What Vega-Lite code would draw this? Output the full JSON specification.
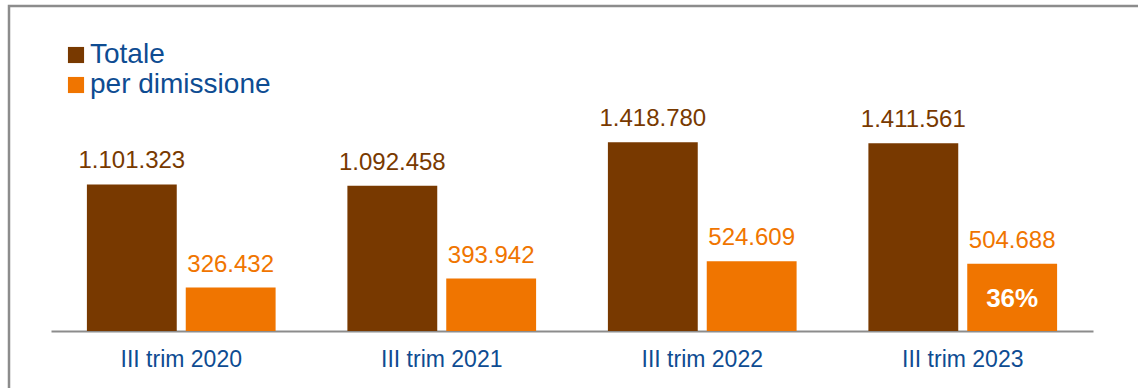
{
  "$schema": "https://vega.github.io/schema/vega-lite/v6.json",
  "width": 1132,
  "height": 388,
  "autosize": {"type": "none"},
  "padding": {"left": 9, "top": 6, "right": -3, "bottom": -6},
  "config": {
    "locale": {"number": {"decimal": ",", "thousands": ".", "grouping": [3], "currency": ["€", ""]}},
    "view": {"stroke": "#8c8c8c", "strokeWidth": 2.5},
    "font": "Liberation Sans"
  },
  "data": {
    "values": [
      {"periodo": "III trim 2020", "serie": "Totale", "valore": 1101323, "pct": ""},
      {"periodo": "III trim 2020", "serie": "per dimissione", "valore": 326432, "pct": ""},
      {"periodo": "III trim 2021", "serie": "Totale", "valore": 1092458, "pct": ""},
      {"periodo": "III trim 2021", "serie": "per dimissione", "valore": 393942, "pct": ""},
      {"periodo": "III trim 2022", "serie": "Totale", "valore": 1418780, "pct": ""},
      {"periodo": "III trim 2022", "serie": "per dimissione", "valore": 524609, "pct": ""},
      {"periodo": "III trim 2023", "serie": "Totale", "valore": 1411561, "pct": ""},
      {"periodo": "III trim 2023", "serie": "per dimissione", "valore": 504688, "pct": "36%"}
    ]
  },
  "encoding": {
    "x": {
      "field": "periodo",
      "type": "nominal",
      "sort": null,
      "scale": {"range": [42, 1084], "paddingInner": 0.2756, "paddingOuter": 0.1378},
      "axis": {
        "orient": "bottom",
        "offset": -63,
        "title": null,
        "ticks": false,
        "tickSize": 0,
        "domain": true,
        "domainColor": "#8c8c8c",
        "domainWidth": 2,
        "labelFontSize": 23,
        "labelColor": "#0E4C92",
        "labelBaseline": "alphabetic",
        "labelPadding": 35.5,
        "labelAngle": 0,
        "grid": false
      }
    },
    "xOffset": {
      "field": "serie",
      "type": "nominal",
      "sort": ["Totale", "per dimissione"],
      "scale": {"paddingInner": 0.091, "paddingOuter": 0}
    },
    "y": {
      "field": "valore",
      "type": "quantitative",
      "scale": {"domain": [-473445, 2442375], "nice": false},
      "axis": null
    }
  },
  "layer": [
    {
      "mark": {"type": "bar"},
      "encoding": {
        "color": {
          "field": "serie",
          "type": "nominal",
          "scale": {"domain": ["Totale", "per dimissione"], "range": ["#783900", "#F07500"]},
          "legend": {
            "title": null,
            "orient": "none",
            "legendX": 53,
            "legendY": 35,
            "labelFontSize": 28,
            "labelLimit": 0,
            "labelColor": "#0E4C92",
            "symbolType": "square",
            "symbolSize": 260,
            "symbolStrokeWidth": 0,
            "symbolOpacity": 1,
            "labelOffset": 0,
            "rowPadding": 2,
            "padding": 0
          }
        }
      }
    },
    {
      "mark": {"type": "text", "baseline": "alphabetic", "dy": -16, "fontSize": 24},
      "encoding": {
        "text": {"field": "valore", "type": "quantitative", "format": ",d"},
        "color": {"field": "serie", "type": "nominal"}
      }
    },
    {
      "mark": {"type": "text", "baseline": "alphabetic", "dy": 43, "fontSize": 26, "fontWeight": "bold", "color": "#ffffff"},
      "encoding": {
        "text": {"field": "pct", "type": "nominal"}
      }
    }
  ]
}
